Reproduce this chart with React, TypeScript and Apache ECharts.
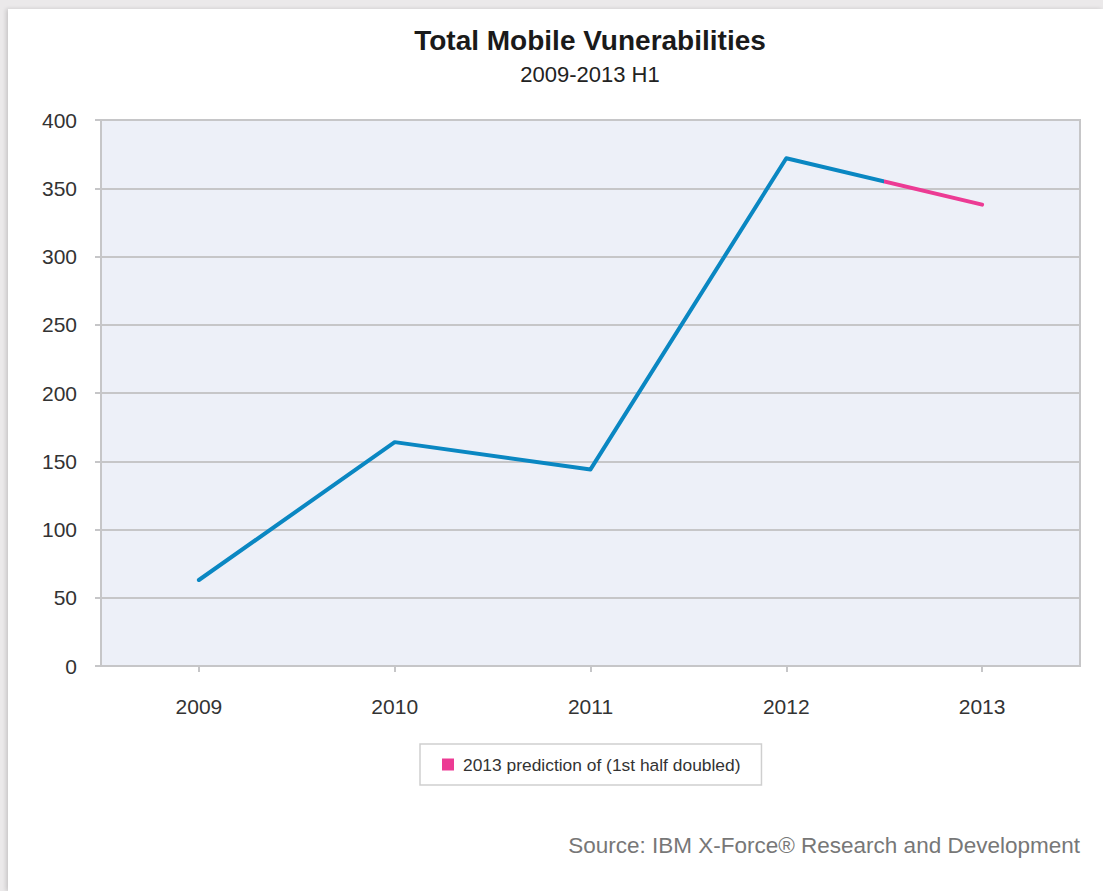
import React, { useEffect, useRef } from "react";
import * as echarts from "echarts";

const years = ["2009", "2010", "2011", "2012", "2013"];
const vulnerabilities = [63, 164, 144, 372, 338];
// prediction segment starts halfway between 2012 and 2013 (category index)
const predictionStartIndex = 3.5;
const yMin = 0;
const yMax = 400;
const yInterval = 50;
const titleText = "Total Mobile Vunerabilities";
const subtitleText = "2009-2013 H1";
const predictionLabel = "2013 prediction of (1st half doubled)";
const sourceText = "Source: IBM X-Force® Research and Development";

const BLUE = "#0a87c2";
const PINK = "#ec3b94";
const GRID_GRAY = "#c6c6c8";
const FONT = "'Liberation Sans', Arial, Helvetica, sans-serif";

export default function App() {
  const ref = useRef<HTMLDivElement>(null);

  useEffect(() => {
    if (!ref.current) return;
    const chart = echarts.init(ref.current, undefined, { renderer: "svg" });
    const split = predictionStartIndex / (years.length - 1);
    const lineColor = new echarts.graphic.LinearGradient(0, 0, 1, 0, [
      { offset: 0, color: BLUE },
      { offset: split, color: BLUE },
      { offset: split, color: PINK },
      { offset: 1, color: PINK },
    ]);
    chart.setOption({
      animation: false,
      backgroundColor: "#ffffff",
      textStyle: { fontFamily: FONT },
      grid: {
        left: 93,
        top: 111,
        width: 979,
        height: 546,
        show: true,
        backgroundColor: "#edf0f8",
        borderColor: GRID_GRAY,
        borderWidth: 2,
        containLabel: false,
      },
      xAxis: {
        type: "category",
        data: years,
        boundaryGap: true,
        axisLine: { show: true, lineStyle: { color: GRID_GRAY, width: 2 } },
        axisTick: {
          show: true,
          alignWithLabel: true,
          length: 6,
          lineStyle: { color: GRID_GRAY, width: 2 },
        },
        axisLabel: {
          color: "#333333",
          fontSize: 21,
          margin: 30,
          fontFamily: FONT,
        },
        splitLine: { show: false },
      },
      yAxis: {
        type: "value",
        min: yMin,
        max: yMax,
        interval: yInterval,
        axisLine: { show: true, lineStyle: { color: GRID_GRAY, width: 2 } },
        axisTick: { show: true, length: 6, lineStyle: { color: GRID_GRAY, width: 2 } },
        axisLabel: {
          color: "#333333",
          fontSize: 21,
          margin: 24,
          fontFamily: FONT,
        },
        splitLine: { show: true, lineStyle: { color: GRID_GRAY, width: 2 } },
      },
      legend: {
        data: [{ name: predictionLabel, icon: "rect", itemStyle: { color: PINK } }],
        left: 412,
        top: 735,
        orient: "horizontal",
        itemWidth: 12,
        itemHeight: 12,
        padding: [11, 21, 11, 22],
        backgroundColor: "#ffffff",
        borderColor: "#cfcfcf",
        borderWidth: 1.5,
        borderRadius: 0,
        selectedMode: false,
        textStyle: {
          color: "#333333",
          fontSize: 17.4,
          lineHeight: 19,
          fontFamily: FONT,
          padding: [0, 0, 0, 4],
        },
      },
      series: [
        {
          name: "Total Mobile Vulnerabilities",
          type: "line",
          data: vulnerabilities,
          showSymbol: false,
          symbol: "none",
          itemStyle: { color: BLUE },
          lineStyle: { width: 4, cap: "round", join: "round", color: lineColor },
          z: 3,
        },
        {
          name: predictionLabel,
          type: "line",
          data: years.map(() => "-"),
          showSymbol: false,
          symbol: "none",
          itemStyle: { color: PINK },
          lineStyle: { color: PINK, width: 4 },
        },
      ],
      graphic: [
        {
          type: "text",
          x: 582,
          y: 31,
          style: {
            text: titleText,
            fill: "#1a1a1a",
            font: `bold 28px ${FONT}`,
            textAlign: "center",
            textVerticalAlign: "middle",
          },
        },
        {
          type: "text",
          x: 582,
          y: 65,
          style: {
            text: subtitleText,
            fill: "#222222",
            font: `22px ${FONT}`,
            textAlign: "center",
            textVerticalAlign: "middle",
          },
        },
        {
          type: "text",
          x: 1072,
          y: 836,
          style: {
            text: sourceText,
            fill: "#777777",
            font: `22.5px ${FONT}`,
            textAlign: "right",
            textVerticalAlign: "middle",
          },
        },
      ],
    });
    return () => chart.dispose();
  }, []);

  return (
    <div
      style={{
        position: "fixed",
        left: 0,
        top: 0,
        width: 1103,
        height: 891,
        background: "#ebe9ea",
        overflow: "hidden",
      }}
    >
      <div
        style={{
          position: "absolute",
          left: 8,
          top: 9,
          width: 1095,
          height: 882,
          background: "#ffffff",
          boxShadow: "-2px 0 4px rgba(0,0,0,0.15)",
        }}
      >
        <div ref={ref} style={{ width: 1095, height: 882 }} />
      </div>
    </div>
  );
}
